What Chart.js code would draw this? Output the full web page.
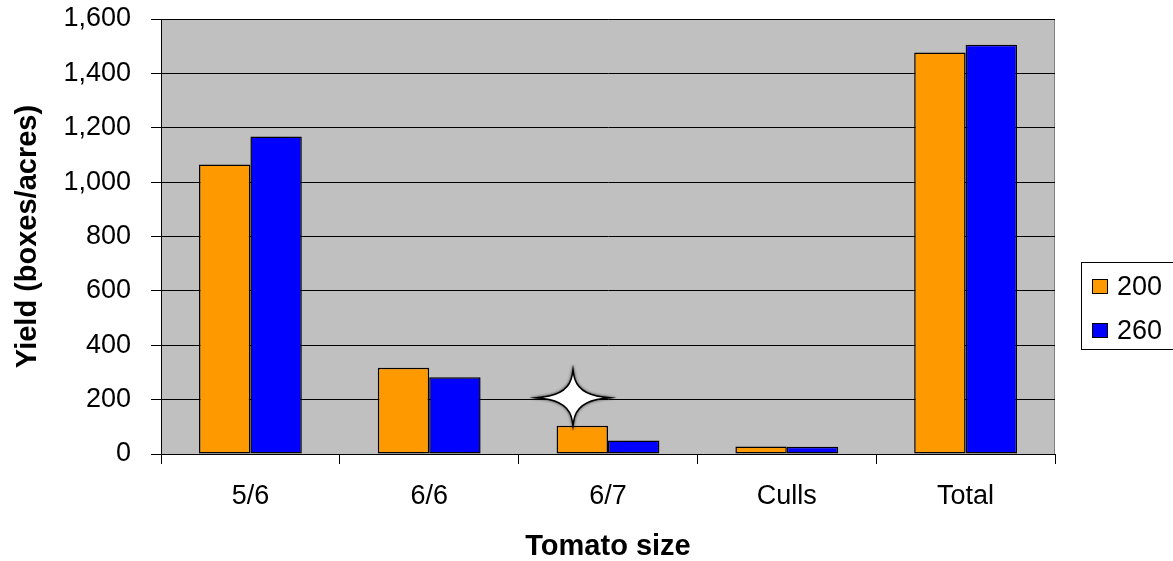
<!DOCTYPE html>
<html>
<head>
<meta charset="utf-8">
<script src="https://cdn.jsdelivr.net/npm/chart.js@4.4.0/dist/chart.umd.min.js"></script>
<style>
    html, body { margin: 0; padding: 0; background: #fff; }
    #wrap { width: 1173px; height: 561px; position: relative; }
</style>
</head>
<body>
<div id="wrap"><canvas id="yieldChart"></canvas></div>
<script>
// Tomato yield by size, two plant populations
const sizes = ['5/6', '6/6', '6/7', 'Culls', 'Total'];
const seriesNames = ['200', '260'];
const yield200 = [1065, 317, 104, 28, 1477];
const yield260 = [1168, 282, 50, 27, 1505];
const yTicks = [0, 200, 400, 600, 800, 1000, 1200, 1400, 1600];

const colors = ['#FF9900', '#0000FF'];
const FONT = "'Liberation Sans', Arial, sans-serif";

Chart.defaults.font.family = FONT;
Chart.defaults.color = '#000';

// gray plot background + gray top/right frame
const plotBackground = {
    id: 'plotBackground',
    beforeDraw(chart) {
        const { ctx, chartArea: a } = chart;
        ctx.save();
        ctx.fillStyle = '#C0C0C0';
        ctx.fillRect(a.left, a.top, a.right - a.left, a.bottom - a.top);
        ctx.strokeStyle = '#808080';
        ctx.lineWidth = 1;
        ctx.beginPath();
        ctx.moveTo(a.left, a.top + 0.5);
        ctx.lineTo(a.right - 0.5, a.top + 0.5);
        ctx.lineTo(a.right - 0.5, a.bottom);
        ctx.stroke();
        ctx.restore();
    }
};

// boxed legend on the right
const boxLegend = {
    id: 'boxLegend',
    afterDraw(chart) {
        const ctx = chart.ctx;
        ctx.save();
        ctx.strokeStyle = '#000';
        ctx.lineWidth = 1;
        ctx.strokeRect(1081.5, 262.5, 100, 87);
        ctx.font = "27px " + FONT;
        ctx.textBaseline = 'middle';
        ctx.textAlign = 'left';
        chart.data.datasets.forEach((ds, i) => {
            const y = 279 + i * 44;
            ctx.fillStyle = ds.backgroundColor;
            ctx.fillRect(1092, y, 16, 15);
            ctx.strokeRect(1092.5, y + 0.5, 15, 14);
            ctx.fillStyle = '#000';
            ctx.fillText(ds.label, 1117, y + 8.5);
        });
        ctx.restore();
    }
};

// the little sparkle sitting above the 6/7 bars
const sparkle = {
    id: 'sparkle',
    afterDraw(chart) {
        const ctx = chart.ctx;
        const cx = chart.scales.x.getPixelForValue(2) - 35;
        const cy = chart.scales.y.getPixelForValue(207);
        const rx = 30, ry = 23, k = 3;
        ctx.save();
        ctx.beginPath();
        ctx.moveTo(cx + rx, cy);
        ctx.quadraticCurveTo(cx + k, cy - k, cx, cy - ry);
        ctx.quadraticCurveTo(cx - k, cy - k, cx - rx, cy);
        ctx.quadraticCurveTo(cx - k, cy + k, cx, cy + ry);
        ctx.quadraticCurveTo(cx + k, cy + k, cx + rx, cy);
        ctx.closePath();
        ctx.shadowColor = 'rgba(0,0,0,0.8)';
        ctx.shadowBlur = 3;
        ctx.lineWidth = 3;
        ctx.strokeStyle = '#000';
        ctx.stroke();
        ctx.shadowBlur = 0;
        ctx.fillStyle = '#fff';
        ctx.fill();
        ctx.restore();
    }
};

new Chart(document.getElementById('yieldChart'), {
    type: 'bar',
    data: {
        labels: sizes,
        datasets: [
            {
                label: seriesNames[0],
                data: yield200,
                backgroundColor: colors[0],
                borderColor: '#000',
                borderWidth: 1.5,
                borderSkipped: false,
                barPercentage: 1,
                categoryPercentage: 0.575
            },
            {
                label: seriesNames[1],
                data: yield260,
                backgroundColor: colors[1],
                borderColor: '#000',
                borderWidth: 1.5,
                borderSkipped: false,
                barPercentage: 1,
                categoryPercentage: 0.575
            }
        ]
    },
    options: {
        responsive: true,
        maintainAspectRatio: false,
        animation: false,
        layout: { padding: { top: 19, right: 118, left: 0, bottom: 0 } },
        plugins: {
            legend: { display: false },
            tooltip: { enabled: false }
        },
        scales: {
            x: {
                grid: {
                    offset: true,
                    drawOnChartArea: false,
                    drawTicks: true,
                    tickLength: 10,
                    color: '#000'
                },
                border: { color: '#000', width: 1 },
                ticks: { font: { size: 27 }, padding: 16, color: '#000' },
                title: {
                    display: true,
                    text: 'Tomato size',
                    font: { size: 29, weight: 'bold', lineHeight: 1 },
                    padding: { top: 0, bottom: 0 },
                    color: '#000'
                },
                afterFit(scale) { scale.height = 107; }
            },
            y: {
                min: yTicks[0],
                max: yTicks[yTicks.length - 1],
                ticks: {
                    stepSize: yTicks[1] - yTicks[0],
                    font: { size: 27 },
                    padding: 20,
                    color: '#000',
                    callback: v => v.toLocaleString('en-US')
                },
                grid: {
                    color: '#000',
                    lineWidth: 1,
                    tickLength: 10,
                    drawTicks: true
                },
                border: { color: '#000', width: 1 },
                title: {
                    display: true,
                    text: 'Yield (boxes/acres)',
                    font: { size: 29, weight: 'bold', lineHeight: 1 },
                    padding: { top: 13, bottom: 0 },
                    color: '#000'
                },
                afterFit(scale) {
                    scale.width = 161;
                    // tick padding otherwise pushes the plot top down
                    scale.paddingTop = 0;
                    scale.paddingBottom = 0;
                }
            }
        }
    },
    plugins: [plotBackground, boxLegend, sparkle]
});
</script>
</body>
</html>
